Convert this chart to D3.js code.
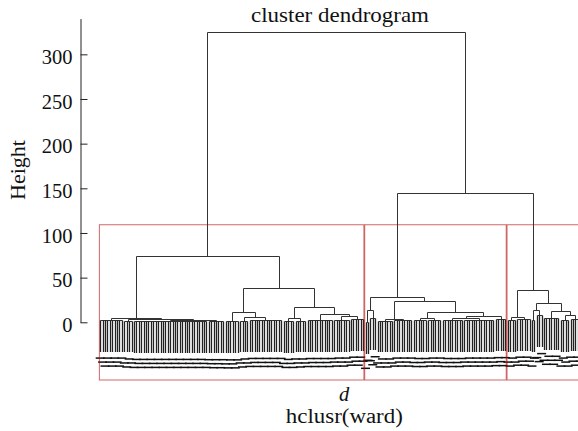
<!DOCTYPE html>
<html>
<head>
<meta charset="utf-8">
<script src="https://cdn.jsdelivr.net/npm/d3@7"></script>
<style>
  body { margin: 0; background: #fff; }
  svg text { font-family: "Liberation Serif", "DejaVu Serif", "Times New Roman", serif; fill: #111; }
  .tick text { font-size: 20.5px; font-family: "Liberation Serif", "DejaVu Serif", serif; }
</style>
</head>
<body>
<svg id="chart" width="578" height="431"></svg>
<script>
// Data, kept in the shape of R's hclust output.
// Low level bundles, left to right: how many leaves, and the height they join at
const bundleSizes = [10, 4, 31, 7, 6, 4, 14, 5, 5, 11, 7, 6,
                     2, 3, 7, 8, 6, 6, 9, 13, 5,
                     4, 6, 2, 3, 7, 4, 5];
const bundleHeights = [3.0, 2.0, 1.5, 1.2, 1.0, 2.0, 2.6, 1.5, 2.0, 2.5, 3.0, 4.0,
                       0.5, 4.5, 2.0, 3.0, 2.5, 3.0, 2.5, 3.0, 3.5,
                       3.0, 4.0, 3.0, 8.0, 5.0, 3.0, 4.0];
// merges: negative = bundle, positive = earlier merge (1-based), like hclust$merge
const merges = [[-3, -4], [-2, 1], [-1, 2], [-6, -7], [-5, 4], [-8, -9], [-11, -12], [-10, 7], [6, 8], [5, 9], [3, 10],
  [-13, -14], [-15, -16], [-17, -18], [-19, -20], [15, -21], [14, 16], [13, 17], [12, 18],
  [-22, -23], [-24, -25], [-27, -28], [-26, 22], [21, 23], [20, 24], [19, 25], [11, 26]];
const mergeHeights = [2.6, 3.8, 4.6, 6.3, 11.2, 4.5, 7.6, 9.0, 16.8, 38.7, 74.2,
  13.8, 4.0, 4.8, 4.5, 7.4, 11.2, 23.5, 28.7,
  6.3, 13.8, 8.0, 12.6, 21.3, 36.2, 144.2, 325.3];
const yTicks = [0, 50, 100, 150, 200, 250, 300];
const yAxisTop = 340;
const k = 3;        // rect.hclust(k = 3)
const hang = 0.11;

const svg = d3.select("#chart");
const serif = "'Liberation Serif', 'DejaVu Serif', serif";

// build nested tree from the merge table
function build(ref) {
  if (ref < 0) {
    const b = -ref - 1;
    return { h: bundleHeights[b], children: d3.range(bundleSizes[b]).map(() => ({ leaf: true })) };
  }
  return { h: mergeHeights[ref - 1], children: merges[ref - 1].map(build) };
}
const root = d3.hierarchy(build(merges.length));
const n = d3.sum(bundleSizes);
d3.cluster().separation(() => 1).size([n, 1])(root);
root.each(d => d.idx = d.x - 0.5); // leaf order index

const maxH = d3.max(mergeHeights);
const hangH = hang * maxH;

const x = d3.scaleLinear().domain([0, n - 1]).range([100.2, 580.2]);
const y = d3.scaleLinear().domain([-64.6, yAxisTop]).range([380, 18.6]);
const px = v => Math.round(v) + 0.5;

// dendrogram segments (inner) and hanging leaves
let path = "", leafPath = "";
root.descendants().filter(d => d.children).forEach(d => {
  const yh = px(y(d.data.h));
  const xs = d.children.map(c => px(x(c.idx)));
  path += `M${d3.min(xs)},${yh}H${d3.max(xs)}`;
  d.children.forEach(c => {
    if (c.children) path += `M${px(x(c.idx))},${yh}V${Math.round(y(c.data.h))}`;
    else leafPath += `M${px(x(c.idx))},${yh}V${Math.round(y(d.data.h - hangH))}`;
  });
});
svg.append("path")
  .attr("d", path)
  .attr("fill", "none")
  .attr("stroke", "#333")
  .attr("stroke-width", 1);
svg.append("path")
  .attr("d", leafPath)
  .attr("fill", "none")
  .attr("stroke", "#222")
  .attr("stroke-width", 1.3);

// leaf labels: unreadable, they blur into streaks under the leaves
const leaves = root.leaves();
svg.append("g")
  .selectAll("line")
  .data(leaves)
  .join("line")
  .attr("x1", d => x(d.idx) - 4.5)
  .attr("x2", d => x(d.idx) + 4.5)
  .attr("y1", (d, i) => y(d.parent.data.h - hangH) + 6.5 + (i % 3) * 4)
  .attr("y2", (d, i) => y(d.parent.data.h - hangH) + 6.5 + (i % 3) * 4)
  .attr("stroke", "#111")
  .attr("stroke-width", 1.5);

// rect.hclust: cut into k groups
let groups = [root];
while (groups.length < k) {
  const top = groups.reduce((a, b) => (a.data.h >= b.data.h ? a : b));
  groups = groups.filter(g => g !== top).concat(top.children);
}
groups.sort((a, b) => a.idx - b.idx);
const sortedH = mergeHeights.slice().sort((a, b) => b - a);
const rectTop = d3.mean(sortedH.slice(k - 2, k));

svg.append("g")
  .selectAll("rect")
  .data(groups)
  .join("rect")
  .attr("x", d => x(d3.min(d.leaves(), l => l.idx) - 0.34))
  .attr("width", d => x(d3.max(d.leaves(), l => l.idx) + 0.33) - x(d3.min(d.leaves(), l => l.idx) - 0.34))
  .attr("y", y(rectTop))
  .attr("height", y.range()[0] - y(rectTop))
  .attr("fill", "none")
  .attr("stroke", "#b00000")
  .attr("stroke-opacity", 0.6)
  .attr("stroke-width", 1);

// y axis, ticks pointing into the plot
const yAxisScale = d3.scaleLinear().domain([0, yAxisTop]).range([y(0), y(yAxisTop)]);
const axis = svg.append("g")
  .attr("transform", "translate(80.5,0)")
  .call(d3.axisLeft(yAxisScale).tickValues(yTicks).tickSize(-7).tickSizeOuter(0).tickPadding(8))
  .attr("font-family", serif)
  .attr("font-size", 20.5);
axis.selectAll("text").attr("dy", "0.44em").style("font-family", serif);
axis.selectAll("line, path").attr("stroke", "#222");

// titles
function label(t) {
  return svg.append("text").style("font-family", serif).attr("text-anchor", "middle").text(t);
}
label("cluster dendrogram")
  .attr("x", 340).attr("y", 21.5)
  .attr("font-size", 21)
  .attr("textLength", 178).attr("lengthAdjust", "spacingAndGlyphs");

label("Height")
  .attr("transform", "translate(25,170) rotate(-90)")
  .attr("font-size", 20.5)
  .attr("textLength", 60).attr("lengthAdjust", "spacingAndGlyphs");

label("d")
  .attr("x", 344).attr("y", 400.5)
  .attr("font-size", 20.5)
  .attr("font-style", "italic");

label("hclusr(ward)")
  .attr("x", 344.3).attr("y", 423)
  .attr("font-size", 20.5)
  .attr("textLength", 117).attr("lengthAdjust", "spacingAndGlyphs");
</script>
</body>
</html>
